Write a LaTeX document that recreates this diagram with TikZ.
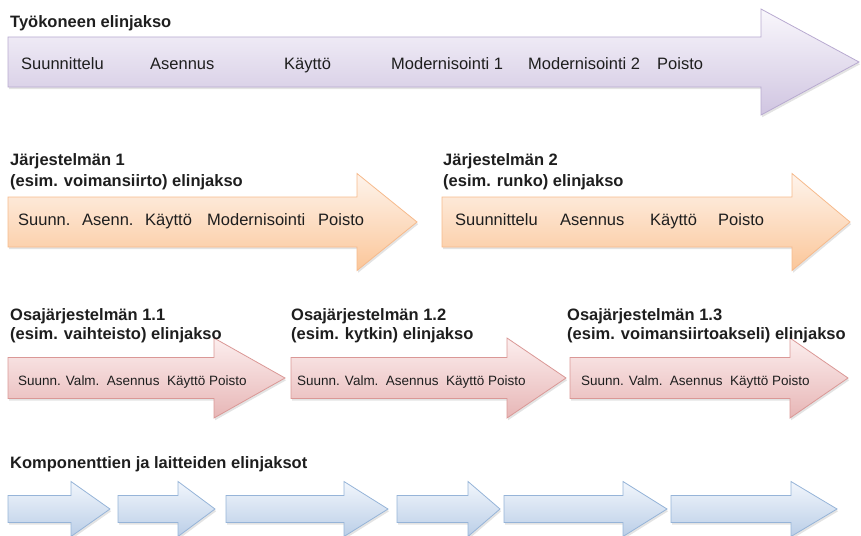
\documentclass[tikz,border=0pt]{standalone}
\usepackage{fontspec}
\setmainfont{Liberation Sans}
\usetikzlibrary{shadows}

\definecolor{lilaTop}{RGB}{249,247,252}
\definecolor{lilaBot}{RGB}{208,197,225}
\definecolor{lilaLine}{RGB}{184,170,208}
\definecolor{oranTop}{RGB}{254,244,236}
\definecolor{oranBot}{RGB}{251,198,153}
\definecolor{oranLine}{RGB}{246,186,140}
\definecolor{punaTop}{RGB}{252,238,238}
\definecolor{punaBot}{RGB}{231,182,182}
\definecolor{punaLine}{RGB}{218,152,150}
\definecolor{siniTop}{RGB}{242,246,252}
\definecolor{siniBot}{RGB}{186,206,231}
\definecolor{siniLine}{RGB}{150,180,216}
\definecolor{teksti}{RGB}{30,30,30}

% arrow: style, left x, head base x, tip x, centre y, body half, head half
\newcommand\lifearrow[7]{%
  \draw[#1] (#2,#5-#6) -- (#3,#5-#6) -- (#3,#5-#7) -- (#4,#5)
    -- (#3,#5+#7) -- (#3,#5+#6) -- (#2,#5+#6) -- cycle;}

\begin{document}
\begin{tikzpicture}[x=1pt, y=-1pt,
    otsikko/.style = {anchor=base west, inner sep=0pt, text=teksti,
      font=\fontsize{16.5}{18}\selectfont\bfseries},
    vaihe/.style = {anchor=base west, inner sep=0pt, text=teksti,
      font=\fontsize{16.5}{18}\selectfont},
    pieni/.style = {anchor=base west, inner sep=0pt, text=teksti,
      font=\fontsize{13.5}{15}\selectfont},
    nuoli/.style = {line width=0.8pt, line join=miter,
      drop shadow={opacity=0.22, shadow xshift=1.2pt, shadow yshift=-2.2pt}},
    lila/.style = {nuoli, draw=lilaLine, top color=lilaTop, bottom color=lilaBot},
    oranssi/.style = {nuoli, draw=oranLine, top color=oranTop, bottom color=oranBot},
    puna/.style = {nuoli, draw=punaLine, top color=punaTop, bottom color=punaBot},
    sini/.style = {nuoli, draw=siniLine, top color=siniTop, bottom color=siniBot}]
    \useasboundingbox (0,0) rectangle (861,535);

    % tyokone
    \lifearrow{lila}{8}{761}{859}{62}{25}{53}
    \node[otsikko] (kone) at (10,28) {Työkoneen elinjakso};
    \node[vaihe] (k_1) at (21,69) {Suunnittelu};
    \node[vaihe] (k_2) at (150,69) {Asennus};
    \node[vaihe] (k_3) at (284,69) {Käyttö};
    \node[vaihe] (k_4) at (391,69) {Modernisointi 1};
    \node[vaihe] (k_5) at (528,69) {Modernisointi 2};
    \node[vaihe] (k_6) at (657,69) {Poisto};

    % jarjestelmat
    \lifearrow{oranssi}{8}{357}{417}{222}{25}{48.5}
    \lifearrow{oranssi}{442}{792}{850}{222}{25}{48.5}
    \node[otsikko] (j1_a) at (10,165) {Järjestelmän 1};
    \node[otsikko] (j1_b) at (10,186) {(esim. voimansiirto) elinjakso};
    \node[otsikko] (j2_a) at (443,165) {Järjestelmän 2};
    \node[otsikko] (j2_b) at (443,186) {(esim. runko) elinjakso};
    \node[vaihe] (j1_1) at (18,225) {Suunn.};
    \node[vaihe] (j1_2) at (82,225) {Asenn.};
    \node[vaihe] (j1_3) at (145,225) {Käyttö};
    \node[vaihe] (j1_4) at (207,225) {Modernisointi};
    \node[vaihe] (j1_5) at (318,225) {Poisto};
    \node[vaihe] (j2_1) at (455,225) {Suunnittelu};
    \node[vaihe] (j2_2) at (560,225) {Asennus};
    \node[vaihe] (j2_3) at (650,225) {Käyttö};
    \node[vaihe] (j2_4) at (718,225) {Poisto};

    % osajarjestelmat
    \lifearrow{puna}{8}{214}{285}{378}{20.5}{40}
    \lifearrow{puna}{291}{507}{566}{378}{20.5}{40}
    \lifearrow{puna}{570}{790}{848}{378}{20.5}{40}
    \node[otsikko] (o1_a) at (10,320) {Osajärjestelmän 1.1};
    \node[otsikko] (o1_b) at (10,339) {(esim. vaihteisto) elinjakso};
    \node[otsikko] (o2_a) at (291,320) {Osajärjestelmän 1.2};
    \node[otsikko] (o2_b) at (291,339) {(esim. kytkin) elinjakso};
    \node[otsikko] (o3_a) at (567,320) {Osajärjestelmän 1.3};
    \node[otsikko] (o3_b) at (567,339) {(esim. voimansiirtoakseli) elinjakso};
    \node[pieni] (o1_v) at (18,385) {Suunn. Valm.\ \ Asennus\ \ Käyttö Poisto};
    \node[pieni] (o2_v) at (297,385) {Suunn. Valm.\ \ Asennus\ \ Käyttö Poisto};
    \node[pieni] (o3_v) at (581,385) {Suunn. Valm.\ \ Asennus\ \ Käyttö Poisto};

    % komponentit
    \node[otsikko] (komp) at (10,468) {Komponenttien ja laitteiden elinjaksot};
    \foreach \a/\b/\c in {8/71/110, 118/178/215, 226/344/388,
                          397/468/500, 504/623/667, 671/791/837}
      \lifearrow{sini}{\a}{\b}{\c}{509}{13.5}{27.5};
\end{tikzpicture}
\end{document}
